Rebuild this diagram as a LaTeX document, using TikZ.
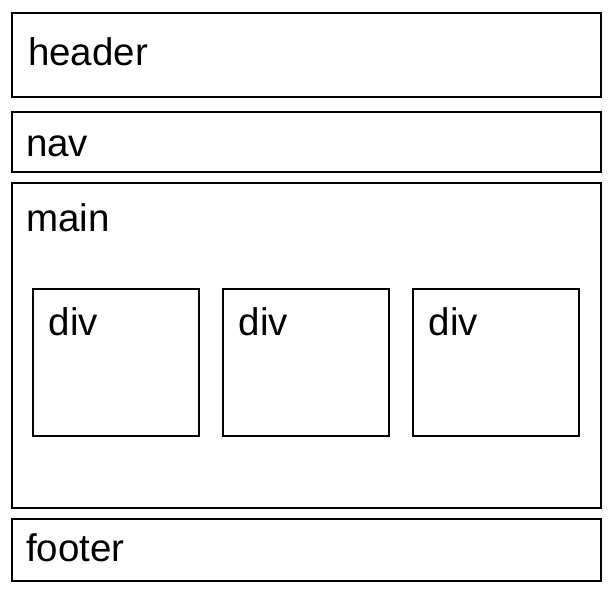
\documentclass[tikz,border=0pt]{standalone}
\usepackage{fontspec}
\setmainfont{Liberation Sans}
\begin{document}
\begin{tikzpicture}[x=1pt, y=-1pt,
    box/.style={draw, line width=2.8pt, anchor=north west, inner sep=0pt, outer sep=0pt},
    tag/.style={anchor=base west, inner sep=0pt, font=\fontsize{38.5}{40}\selectfont}]
    \useasboundingbox (0,0) rectangle (616,598);

    % Page blocks
    \node[box, minimum width=589pt, minimum height=84pt] (header) at (12,13) {};
    \node[box, minimum width=589pt, minimum height=60pt] (nav) at (12,112) {};
    \node[box, minimum width=589pt, minimum height=325pt] (main) at (12,183) {};
    \node[box, minimum width=589pt, minimum height=62pt] (footer) at (12,519) {};

    % Block labels
    \node[tag] (headertag) at (27.8,65.7) {header};
    \node[tag] (navtag) at (25.8,156.7) {nav};
    \node[tag] (maintag) at (26,231.7) {main};
    \node[tag] (footertag) at (25.8,561.7) {footer};

    % Divs inside main
    \foreach \i/\x in {1/33, 2/223, 3/413} {
        \node[box, minimum width=166pt, minimum height=147pt] (div\i) at (\x,289) {};
        \node[tag] (divtag\i) at (\x+15.5,335) {div};
    }
\end{tikzpicture}
\end{document}
